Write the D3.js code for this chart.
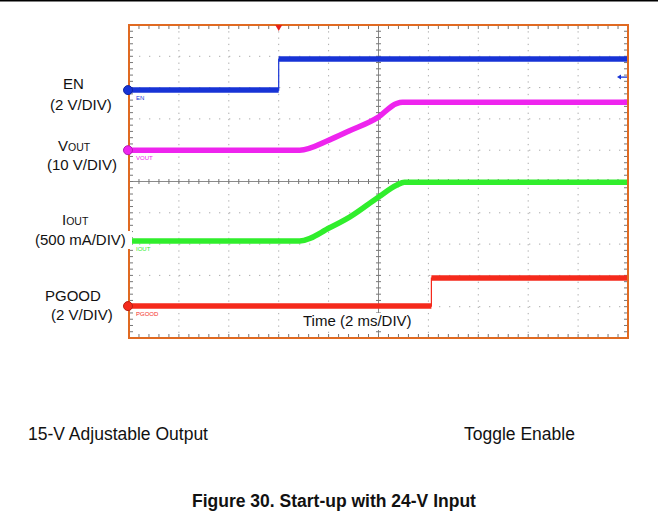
<!DOCTYPE html>
<html>
<head>
<meta charset="utf-8">
<script src="https://cdn.jsdelivr.net/npm/d3@7"></script>
<style>
	body { margin: 0; background: #fff; }
	svg { display: block; font-family: "Liberation Sans", Arial, sans-serif; }
</style>
</head>
<body>
<script>
const WIDTH = 658;
const HEIGHT = 511;
const LEFT = 129, RIGHT = 628, TOP = 25, BOTTOM = 338;

// scope screen: 10 x 10 divisions, 2 ms per division
const TIME_DIVS = 10;
const MS_PER_DIV = 2;
const VERT_DIVS = 10;

// traces, time in ms, values in channel units
const enTime   = [0, 6, 6, 20];
const enVolts  = [0, 0, 1.98, 1.98];
const voutTime  = [0, 6.84, 8.04, 8.84, 9.96, 10.72, 10.96, 20];
const voutVolts = [0, 0, 3.3, 6.2, 10.4, 14.9, 15.3, 15.3];
const ioutTime  = [0, 6.84, 8.04, 8.84, 9.96, 10.72, 11.04, 20];
const ioutAmps  = [0, 0, 0.21, 0.38, 0.69, 0.89, 0.94, 0.94];
const pgTime   = [0, 12.12, 12.12, 20];
const pgVolts  = [0, 0, 1.79, 1.79];

const channelNames  = ['EN', 'VOUT', 'IOUT', 'PGOOD'];
const channelPerDiv = [2, 10, 0.5, 2];        // units per division
const channelOffset = [2.92, 1.0, -1.9, -3.98]; // ground level, divisions from center
const channelColor  = ['#1733d6', '#ee24ee', '#30ee2c', '#f52a1c'];
const triggerTime = 6;      // ms
const triggerLevel = 0.83;  // V on EN

const leftLabels = [
	{ main: 'EN', sub: '', x: 63, y: 89 },
	{ main: '(2 V/DIV)', sub: '', x: 50, y: 110 },
	{ main: 'V', sub: 'OUT', x: 58, y: 151 },
	{ main: '(10 V/DIV)', sub: '', x: 47, y: 170 },
	{ main: 'I', sub: 'OUT', x: 62, y: 225 },
	{ main: '(500 mA/DIV)', sub: '', x: 35, y: 245, box: true },
	{ main: 'PGOOD', sub: '', x: 45, y: 301 },
	{ main: '(2 V/DIV)', sub: '', x: 51, y: 320 }
];

var _x, _y;

var svg = d3.select('body').append('svg')
	.attr('width', WIDTH).attr('height', HEIGHT);

svg.append('rect').attr('width', WIDTH).attr('height', HEIGHT).attr('fill', '#fff');
svg.append('line').attr('x1', 0).attr('x2', WIDTH).attr('y1', 0.8).attr('y2', 0.8)
	.attr('stroke', '#000').attr('stroke-width', 1.6);

_x = d3.scaleLinear().domain([0, TIME_DIVS * MS_PER_DIV]).range([LEFT, RIGHT]);
_y = d3.scaleLinear().domain([-VERT_DIVS / 2, VERT_DIVS / 2]).range([BOTTOM, TOP]);

var drawGrid = function () {
	var g = svg.append('g');
	var xs = d3.range(1, TIME_DIVS).map(function (i) { return i * MS_PER_DIV; });
	var ys = d3.range(-VERT_DIVS / 2 + 1, VERT_DIVS / 2);
	g.selectAll('.vg').data(xs.filter(function (d) { return d !== 10; })).enter().append('line')
		.attr('x1', _x).attr('x2', _x).attr('y1', TOP).attr('y2', BOTTOM)
		.attr('stroke', '#aaa').attr('stroke-width', 1).attr('stroke-dasharray', '1.3,4.96');
	g.selectAll('.hg').data(ys.filter(function (d) { return d !== 0; })).enter().append('line')
		.attr('x1', LEFT).attr('x2', RIGHT).attr('y1', _y).attr('y2', _y)
		.attr('stroke', '#aaa').attr('stroke-width', 1).attr('stroke-dasharray', '1.3,8.7');

	// center lines
	g.append('line').attr('x1', _x(10)).attr('x2', _x(10)).attr('y1', TOP).attr('y2', BOTTOM)
		.attr('stroke', '#8a8a8a').attr('stroke-width', 1);
	g.append('line').attr('x1', LEFT).attr('x2', RIGHT).attr('y1', _y(0)).attr('y2', _y(0))
		.attr('stroke', '#8a8a8a').attr('stroke-width', 1);

	// minor ticks
	var tx = d3.range(1, TIME_DIVS * 5).map(function (i) { return i * MS_PER_DIV / 5; });
	var ty = d3.range(1, VERT_DIVS * 5).map(function (i) { return -VERT_DIVS / 2 + i / 5; });
	var tick = function (x1, y1, x2, y2) {
		g.append('line').attr('x1', x1).attr('y1', y1).attr('x2', x2).attr('y2', y2)
			.attr('stroke', '#777').attr('stroke-width', 1);
	};
	tx.forEach(function (t) {
		tick(_x(t), TOP, _x(t), TOP + 4);
		tick(_x(t), BOTTOM, _x(t), BOTTOM - 4);
		tick(_x(t), _y(0) - 2.5, _x(t), _y(0) + 2.5);
	});
	ty.forEach(function (v) {
		tick(LEFT, _y(v), LEFT + 4, _y(v));
		tick(RIGHT, _y(v), RIGHT - 4, _y(v));
		tick(_x(10) - 2.5, _y(v), _x(10) + 2.5, _y(v));
	});
};

var drawTraces = function () {
	svg.append('clipPath').attr('id', 'scr').append('rect')
		.attr('x', LEFT).attr('y', TOP).attr('width', RIGHT - LEFT).attr('height', BOTTOM - TOP);
	var g = svg.append('g').attr('clip-path', 'url(#scr)');
	var sets = [[enTime, enVolts], [voutTime, voutVolts], [ioutTime, ioutAmps], [pgTime, pgVolts]];
	var line = d3.line().x(function (d) { return _x(d.t); }).y(function (d) { return _y(d.v); });
	var smooth = d3.line().curve(d3.curveMonotoneX).x(function (d) { return _x(d.t); }).y(function (d) { return _y(d.v); });
	sets.forEach(function (s, c) {
		var pts = s[0].map(function (t, i) {
			return { t: t, v: channelOffset[c] + s[1][i] / channelPerDiv[c] };
		});
		var steps = d3.pairs(pts).filter(function (p) { return p[0].t === p[1].t; }).length > 0;
		if (!steps) {
			g.append('path').attr('d', smooth(pts)).attr('fill', 'none')
				.attr('stroke', channelColor[c]).attr('stroke-width', 5.5)
				.attr('stroke-linejoin', 'round');
			return;
		}
		// thin edge for the whole trace
		g.append('path').attr('d', line(pts)).attr('fill', 'none')
			.attr('stroke', channelColor[c]).attr('stroke-width', 1.2);
		// thick band on the flat parts
		d3.pairs(pts).filter(function (p) { return p[0].t !== p[1].t; }).forEach(function (p) {
			g.append('path').attr('d', line(p)).attr('fill', 'none')
				.attr('stroke', channelColor[c]).attr('stroke-width', 5.5);
		});
	});
};

var drawFrame = function () {
	svg.append('rect').attr('x', LEFT).attr('y', TOP).attr('width', RIGHT - LEFT).attr('height', BOTTOM - TOP)
		.attr('fill', 'none').attr('stroke', '#e06a22').attr('stroke-width', 2);

	// trigger position and level
	var tx = _x(triggerTime);
	svg.append('path').attr('d', 'M' + (tx - 3.5) + ',' + TOP + 'L' + (tx + 3.5) + ',' + TOP + 'L' + tx + ',' + (TOP + 6) + 'Z')
		.attr('fill', '#e8201a');
	var ly = _y(channelOffset[0] + triggerLevel / channelPerDiv[0]);
	svg.append('line').attr('x1', RIGHT - 9).attr('x2', RIGHT - 1).attr('y1', ly).attr('y2', ly)
		.attr('stroke', channelColor[0]).attr('stroke-width', 1.3);
	svg.append('path').attr('d', 'M' + (RIGHT - 11) + ',' + ly + 'l4,-2.5l0,5Z').attr('fill', channelColor[0]);

	// channel ground markers and tiny names
	channelNames.forEach(function (n, c) {
		var cy = _y(channelOffset[c]);
		if (c !== 2) {
			svg.append('circle').attr('cx', LEFT - 1).attr('cy', cy).attr('r', 4.5)
				.attr('fill', channelColor[c]).attr('stroke', d3.color(channelColor[c]).darker(0.8)).attr('stroke-width', 1);
		}
		svg.append('text').attr('x', LEFT + 7).attr('y', cy + 10).text(n)
			.attr('font-size', 6).attr('fill', channelColor[c]);
	});
};

var drawText = function () {
	leftLabels.forEach(function (l) {
		if (l.box) {
			svg.append('rect').attr('x', l.x - 1).attr('y', l.y - 14).attr('width', 98).attr('height', 18).attr('fill', '#fff');
		}
		var t = svg.append('text').attr('x', l.x).attr('y', l.y).attr('font-size', 15).attr('fill', '#111');
		t.append('tspan').text(l.main);
		if (l.sub) t.append('tspan').attr('font-size', 10.5).text(l.sub);
	});
	svg.append('rect').attr('x', 301).attr('y', 313).attr('width', 118).attr('height', 17).attr('fill', '#fff');
	svg.append('text').attr('x', 303).attr('y', 326).attr('font-size', 15).attr('fill', '#111').text('Time (2 ms/DIV)');

	svg.append('text').attr('x', 28).attr('y', 440).attr('font-size', 17.5).attr('fill', '#111').text('15-V Adjustable Output');
	svg.append('text').attr('x', 464).attr('y', 440).attr('font-size', 17.5).attr('fill', '#111').text('Toggle Enable');
	svg.append('text').attr('x', 192).attr('y', 507).attr('font-size', 17.5).attr('font-weight', 'bold')
		.attr('fill', '#111').text('Figure 30. Start-up with 24-V Input');
};

drawGrid();
drawTraces();
drawFrame();
drawText();
</script>
</body>
</html>
